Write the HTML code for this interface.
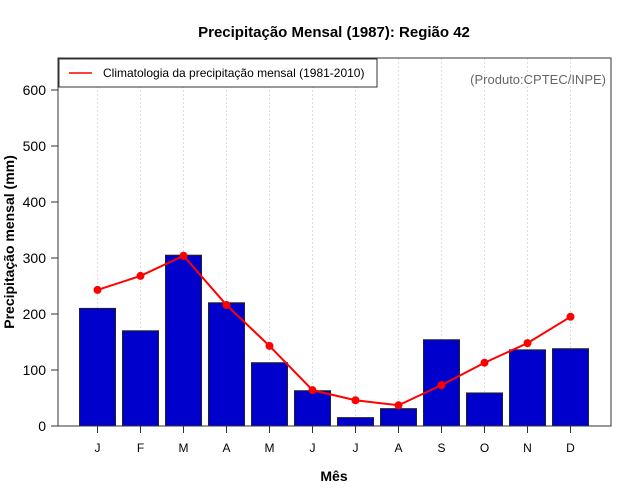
<!DOCTYPE html>
<html><head><meta charset="utf-8"><style>
body{margin:0;background:#fff;}
svg{display:block;font-family:"Liberation Sans",sans-serif;}
</style></head><body>
<svg id="chart" width="640" height="500">
<text x="334" y="37" text-anchor="middle" font-size="15" font-weight="bold">Precipitação Mensal (1987): Região 42</text>
<text x="334" y="481" text-anchor="middle" font-size="14" font-weight="bold">Mês</text>
<text transform="translate(14,242) rotate(-90)" text-anchor="middle" font-size="14" font-weight="bold">Precipitação mensal (mm)</text>
<g id="grid"></g><g id="bars"></g><g id="line"></g><g id="axes"></g>
<rect x="58" y="58" width="553" height="368" fill="none" stroke="#333" stroke-width="1"/>
<g>
<rect x="59" y="59" width="318" height="28" fill="#fff" stroke="#333"/>
<line x1="69" y1="73" x2="92" y2="73" stroke="red" stroke-width="1.5"/>
<text x="103" y="77" font-size="12">Climatologia da precipitação mensal (1981-2010)</text>
</g>
<text x="606" y="84" text-anchor="end" font-size="13" fill="#666">(Produto:CPTEC/INPE)</text>
</svg>
<script>
const months=["J","F","M","A","M","J","J","A","S","O","N","D"];
const precip=[210,170,305,220,113,63,15,31,154,59,136,138];
const clim=[243,268,304,216,143,64,46,37,73,113,148,195];
const yTicks=[0,100,200,300,400,500,600];
const NS="http://www.w3.org/2000/svg";
const xs=i=>97.5+i*43;
const ys=v=>426-v*0.56;
function mk(tag,attrs,parent){const e=document.createElementNS(NS,tag);for(const k in attrs)e.setAttribute(k,attrs[k]);parent.appendChild(e);return e;}
const grid=document.getElementById('grid'),bars=document.getElementById('bars'),line=document.getElementById('line'),axes=document.getElementById('axes');
months.forEach((m,i)=>{
 const g=mk('line',{x1:xs(i),x2:xs(i),y1:58,y2:426,stroke:'#ddd','stroke-dasharray':'2,2'},grid);
 
 
 const b=mk('rect',{x:xs(i)-18,y:ys(precip[i]),width:36,height:precip[i]*0.56,fill:'#0000CC',stroke:'#222','stroke-width':1},bars);
 
 
 const t=mk('line',{x1:xs(i),x2:xs(i),y1:426,y2:433,stroke:'#333'},axes);
 
 
 const l=mk('text',{x:xs(i),y:452,'text-anchor':'middle','font-size':12},axes);
 l.textContent=m;
 
 
});
const pl=mk('polyline',{points:clim.map((v,i)=>xs(i)+','+ys(v)).join(' '),fill:'none',stroke:'red','stroke-width':2},line);


clim.forEach((v,i)=>{
 const c=mk('circle',{cx:xs(i),cy:ys(v),r:4,fill:'red'},line);
 
 
});
yTicks.forEach(v=>{
 const t=mk('line',{x1:51,x2:58,y1:ys(v),y2:ys(v),stroke:'#333'},axes);
 
 
 const l=mk('text',{x:46,y:ys(v)+5,'text-anchor':'end','font-size':14},axes);
 l.textContent=v;
 
 
});
</script>
</body></html>
